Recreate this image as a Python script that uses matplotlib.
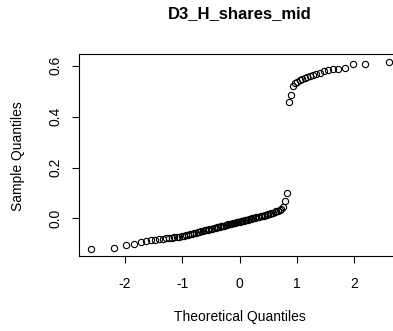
import numpy as np
import matplotlib
matplotlib.use("Agg")
import matplotlib.pyplot as plt
from statistics import NormalDist

plt.rcParams['font.family'] = ['Liberation Sans', 'DejaVu Sans']

title = "D3_H_shares_mid"

# sorted sample values (lower cluster, then upper cluster)
lower_vals = [-0.118, -0.117, -0.105, -0.101, -0.094, -0.089, -0.086, -0.083, -0.081, -0.079,
              -0.077, -0.076, -0.075, -0.074, -0.073, -0.072, -0.070, -0.068, -0.066, -0.064,
              -0.062, -0.060, -0.058, -0.056, -0.054, -0.053, -0.051, -0.049, -0.047, -0.046,
              -0.044, -0.043, -0.041, -0.040, -0.038, -0.037, -0.035, -0.034, -0.032, -0.031,
              -0.029, -0.028, -0.026, -0.025, -0.023, -0.022, -0.020, -0.019, -0.018, -0.016,
              -0.015, -0.013, -0.012, -0.011, -0.010, -0.008, -0.007, -0.006, -0.005, -0.003,
              -0.002, 0.000, 0.001, 0.003, 0.004, 0.006, 0.007, 0.009, 0.010, 0.011,
              0.012, 0.014, 0.016, 0.018, 0.020, 0.022, 0.025, 0.028, 0.031, 0.035,
              0.039, 0.044, 0.068, 0.101]
upper_vals = [0.456, 0.485, 0.522, 0.532, 0.538, 0.543, 0.548, 0.552, 0.556, 0.560,
              0.563, 0.567, 0.572, 0.578, 0.582, 0.586, 0.589, 0.593, 0.606, 0.606, 0.615]

xticks = [-2, -1, 0, 1, 2]
yticks = [0.0, 0.2, 0.4, 0.6]
ytick_labels = ["0.0", "0.2", "0.4", "0.6"]

# qqnorm: theoretical quantiles from ppoints(n)
sample = np.sort(np.array(lower_vals + upper_vals))
n = len(sample)
a = 3 / 8 if n <= 10 else 0.5
pp = (np.arange(1, n + 1) - a) / (n + 1 - 2 * a)
theo = np.array([NormalDist().inv_cdf(p) for p in pp])

fig = plt.figure(figsize=(3.93, 3.31), dpi=100)
ax = fig.add_axes([0.2, 0.2266, 0.819, 0.6088])

ax.plot(theo, sample, 'o', mfc='none', mec='black', ms=4.5, mew=0.8)

xr = theo.max() - theo.min()
yr = sample.max() - sample.min()
ax.set_xlim(theo.min() - 0.04 * xr, theo.max() + 0.04 * xr)
ax.set_ylim(sample.min() - 0.04 * yr, sample.max() + 0.04 * yr)

ax.set_xticks(xticks)
ax.set_xticklabels([str(v) for v in xticks])
ax.set_yticks(yticks)
ax.set_yticklabels(ytick_labels, rotation=90, va='center')
ax.tick_params(axis='x', length=5, width=0.8, labelsize=10, pad=10)
ax.tick_params(axis='y', length=5, width=0.8, labelsize=10, pad=6.5)
for s in ax.spines.values():
    s.set_linewidth(0.8)

ax.set_title(title, fontsize=12, fontweight='bold', y=1.163, va='center')
ax.set_xlabel("Theoretical Quantiles", fontsize=10, va='center')
ax.xaxis.set_label_coords(0.5, -0.303)
ax.set_ylabel("Sample Quantiles", fontsize=10, va='center')
ax.yaxis.set_label_coords(-0.187, 0.494)

fig.savefig("out.png", dpi=100)
